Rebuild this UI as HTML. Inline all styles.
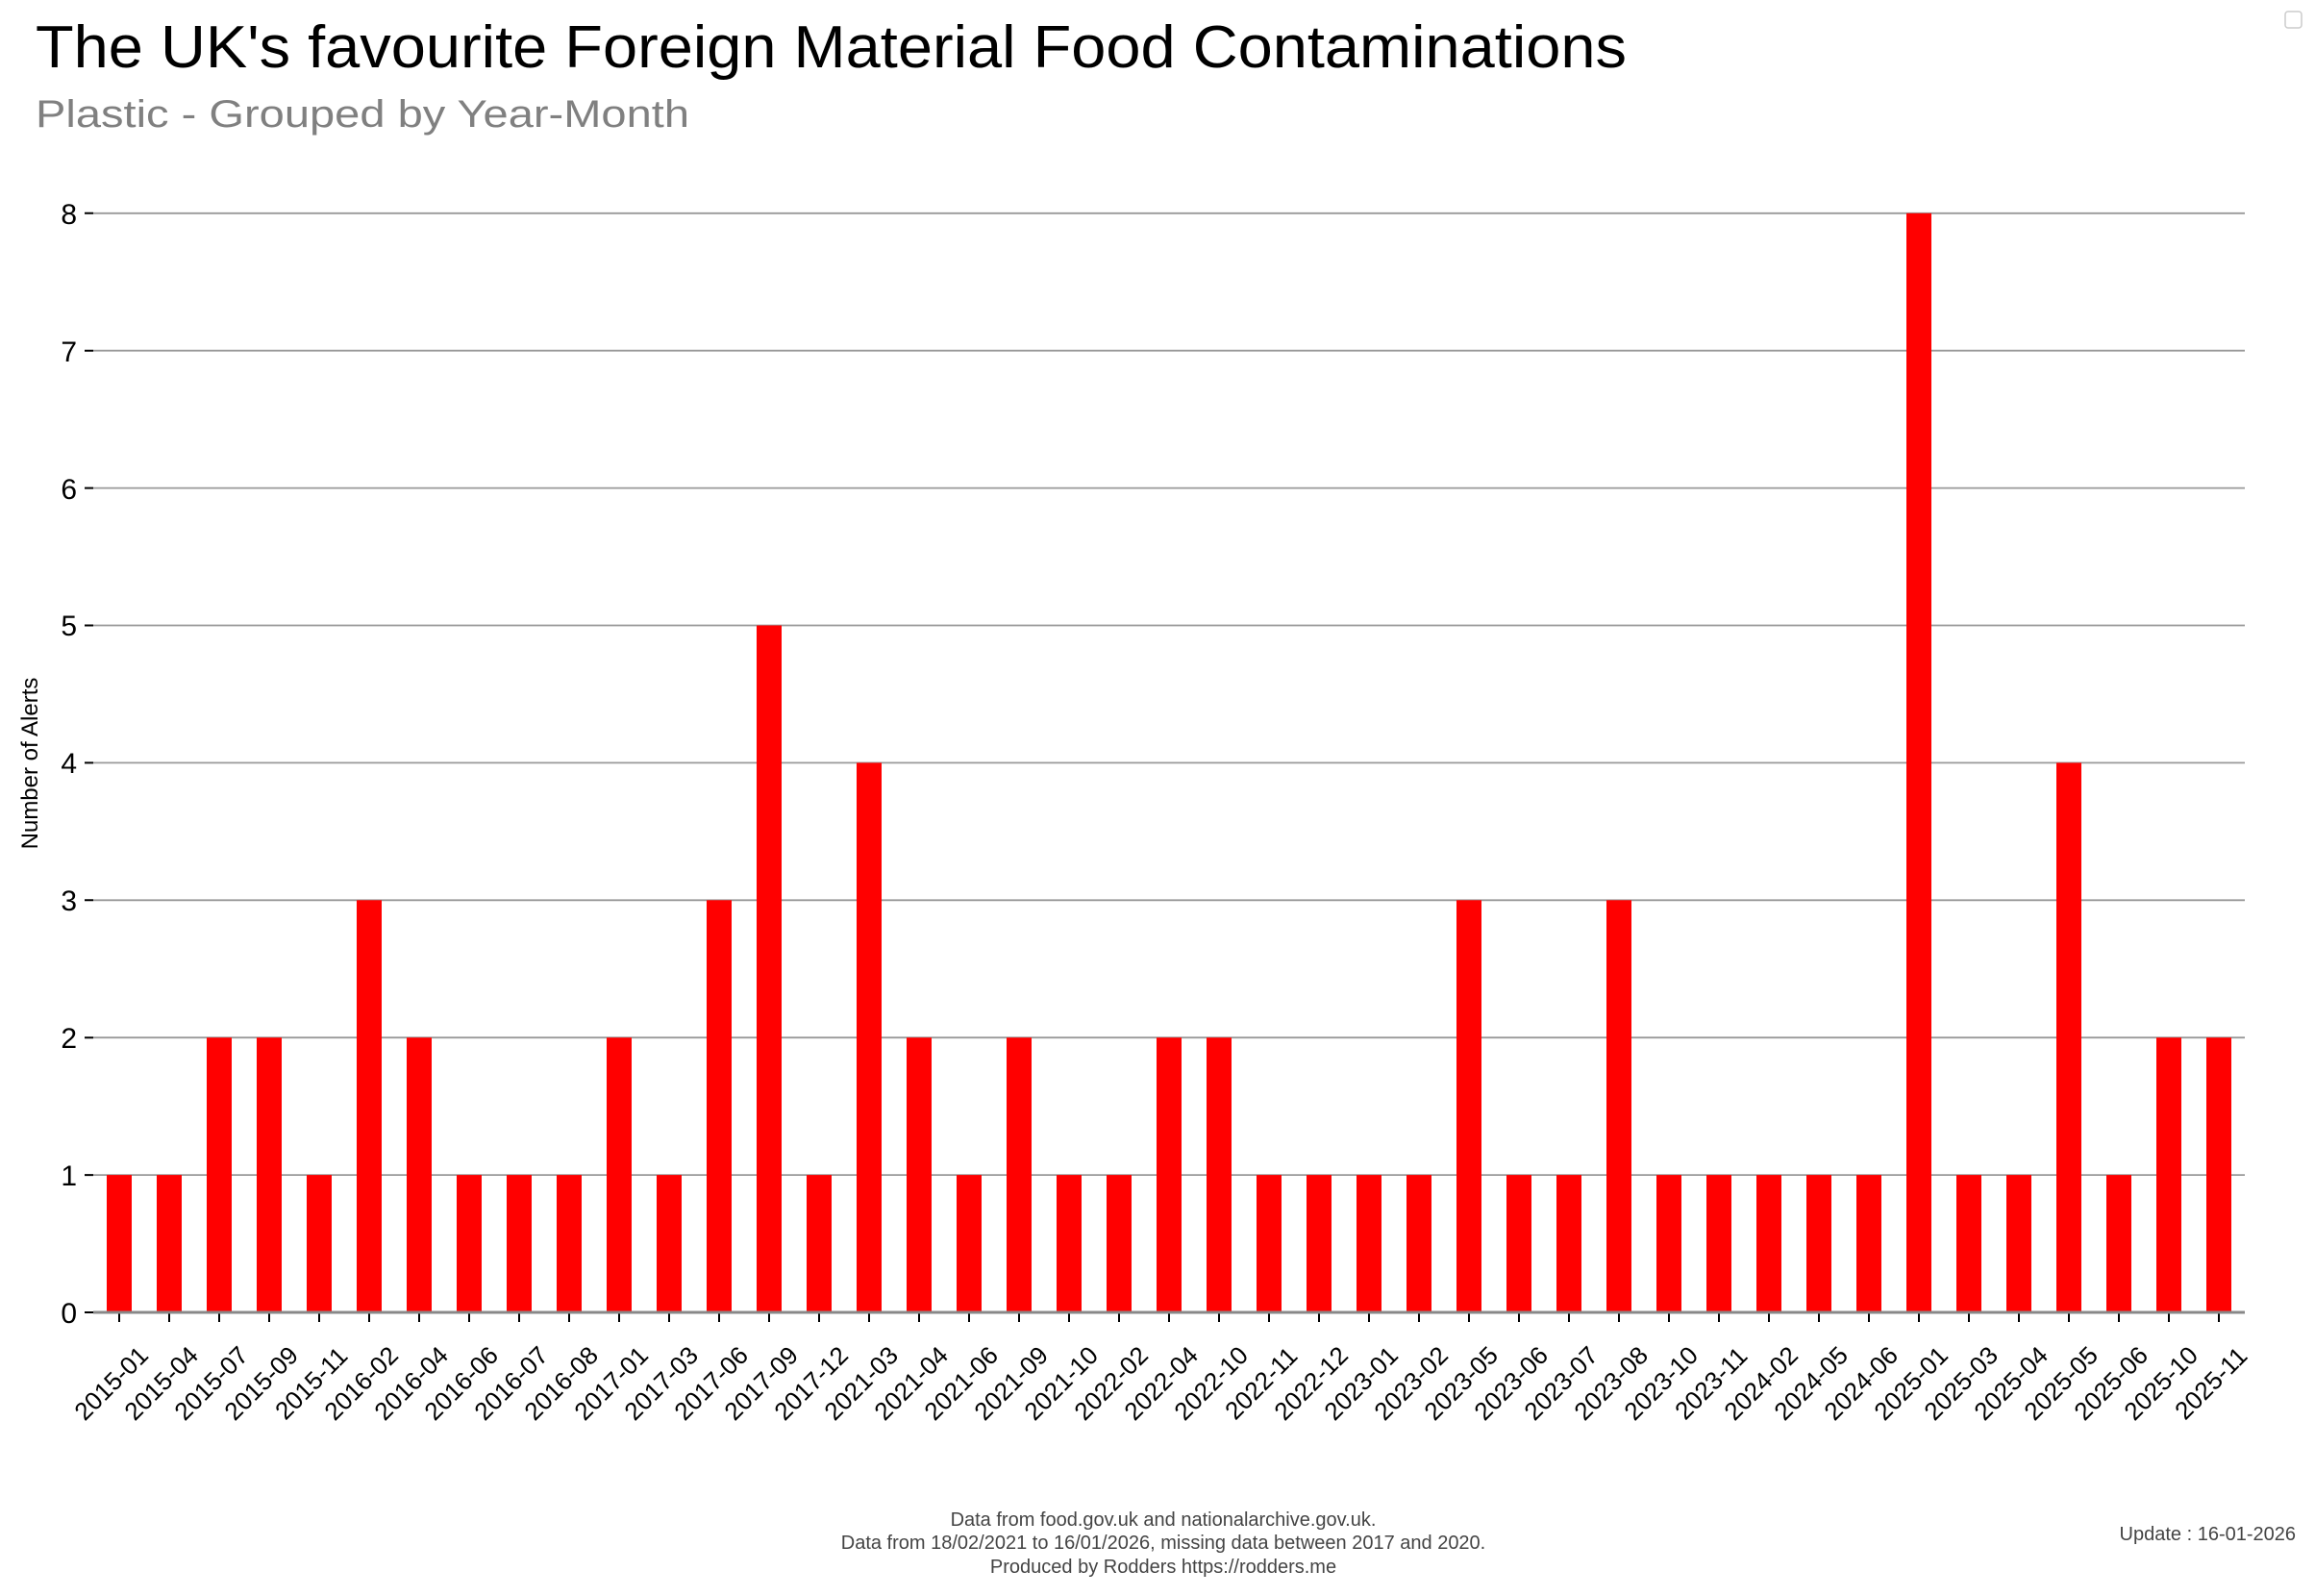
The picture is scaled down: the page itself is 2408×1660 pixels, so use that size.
<!DOCTYPE html>
<html><head><meta charset="utf-8"><style>html,body{margin:0;padding:0;background:#fff}svg{display:block}</style></head>
<body>
<svg xmlns="http://www.w3.org/2000/svg" width="2408" height="1660" viewBox="0 0 2408 1660" font-family="'Liberation Sans', 'DejaVu Sans', sans-serif">
<rect width="2408" height="1660" fill="#fff"/>
<text x="37" y="70" font-size="62" fill="#000" textLength="1655" lengthAdjust="spacingAndGlyphs">The UK's favourite Foreign Material Food Contaminations</text>
<text x="37" y="132" font-size="40" fill="#808080" textLength="680" lengthAdjust="spacingAndGlyphs">Plastic - Grouped by Year-Month</text>
<rect x="2377" y="12" width="17" height="17" rx="3" fill="#fff" stroke="#ccc" stroke-width="1.5"/>
<g stroke="#999" stroke-width="1.8">
<line x1="97" x2="2335" y1="1222.1" y2="1222.1"/>
<line x1="97" x2="2335" y1="1079.2" y2="1079.2"/>
<line x1="97" x2="2335" y1="936.3" y2="936.3"/>
<line x1="97" x2="2335" y1="793.4" y2="793.4"/>
<line x1="97" x2="2335" y1="650.5" y2="650.5"/>
<line x1="97" x2="2335" y1="507.6" y2="507.6"/>
<line x1="97" x2="2335" y1="364.7" y2="364.7"/>
<line x1="97" x2="2335" y1="221.8" y2="221.8"/>
</g>
<g fill="#ff0000" transform="translate(0,1365) scale(1,-142.9)">
<rect x="111" y="0" width="26" height="1"/>
<rect x="163" y="0" width="26" height="1"/>
<rect x="215" y="0" width="26" height="2"/>
<rect x="267" y="0" width="26" height="2"/>
<rect x="319" y="0" width="26" height="1"/>
<rect x="371" y="0" width="26" height="3"/>
<rect x="423" y="0" width="26" height="2"/>
<rect x="475" y="0" width="26" height="1"/>
<rect x="527" y="0" width="26" height="1"/>
<rect x="579" y="0" width="26" height="1"/>
<rect x="631" y="0" width="26" height="2"/>
<rect x="683" y="0" width="26" height="1"/>
<rect x="735" y="0" width="26" height="3"/>
<rect x="787" y="0" width="26" height="5"/>
<rect x="839" y="0" width="26" height="1"/>
<rect x="891" y="0" width="26" height="4"/>
<rect x="943" y="0" width="26" height="2"/>
<rect x="995" y="0" width="26" height="1"/>
<rect x="1047" y="0" width="26" height="2"/>
<rect x="1099" y="0" width="26" height="1"/>
<rect x="1151" y="0" width="26" height="1"/>
<rect x="1203" y="0" width="26" height="2"/>
<rect x="1255" y="0" width="26" height="2"/>
<rect x="1307" y="0" width="26" height="1"/>
<rect x="1359" y="0" width="26" height="1"/>
<rect x="1411" y="0" width="26" height="1"/>
<rect x="1463" y="0" width="26" height="1"/>
<rect x="1515" y="0" width="26" height="3"/>
<rect x="1567" y="0" width="26" height="1"/>
<rect x="1619" y="0" width="26" height="1"/>
<rect x="1671" y="0" width="26" height="3"/>
<rect x="1723" y="0" width="26" height="1"/>
<rect x="1775" y="0" width="26" height="1"/>
<rect x="1827" y="0" width="26" height="1"/>
<rect x="1879" y="0" width="26" height="1"/>
<rect x="1931" y="0" width="26" height="1"/>
<rect x="1983" y="0" width="26" height="8"/>
<rect x="2035" y="0" width="26" height="1"/>
<rect x="2087" y="0" width="26" height="1"/>
<rect x="2139" y="0" width="26" height="4"/>
<rect x="2191" y="0" width="26" height="1"/>
<rect x="2243" y="0" width="26" height="2"/>
<rect x="2295" y="0" width="26" height="2"/>
</g>
<path stroke="#000" stroke-width="2" fill="none" d="M88 1365H97M88 1222.1H97M88 1079.2H97M88 936.3H97M88 793.4H97M88 650.5H97M88 507.6H97M88 364.7H97M88 221.8H97"/>
<g font-size="30" text-anchor="end" fill="#000">
<text x="80" y="1376">0</text><text x="80" y="1233">1</text><text x="80" y="1090">2</text><text x="80" y="947">3</text><text x="80" y="804">4</text><text x="80" y="661">5</text><text x="80" y="519">6</text><text x="80" y="376">7</text><text x="80" y="233">8</text>
</g>
<path stroke="#000" stroke-width="2" fill="none" d="M124 1365v10M176 1365v10M228 1365v10M280 1365v10M332 1365v10M384 1365v10M436 1365v10M488 1365v10M540 1365v10M592 1365v10M644 1365v10M696 1365v10M748 1365v10M800 1365v10M852 1365v10M904 1365v10M956 1365v10M1008 1365v10M1060 1365v10M1112 1365v10M1164 1365v10M1216 1365v10M1268 1365v10M1320 1365v10M1372 1365v10M1424 1365v10M1476 1365v10M1528 1365v10M1580 1365v10M1632 1365v10M1684 1365v10M1736 1365v10M1788 1365v10M1840 1365v10M1892 1365v10M1944 1365v10M1996 1365v10M2048 1365v10M2100 1365v10M2152 1365v10M2204 1365v10M2256 1365v10M2308 1365v10"/>
<line x1="97" x2="2335" y1="1365" y2="1365" stroke="#888" stroke-width="3"/>
<g font-size="26" text-anchor="middle" fill="#000">
<text transform="translate(122,1445) rotate(-45)">2015-01</text>
<text transform="translate(174,1445) rotate(-45)">2015-04</text>
<text transform="translate(226,1445) rotate(-45)">2015-07</text>
<text transform="translate(278,1445) rotate(-45)">2015-09</text>
<text transform="translate(330,1445) rotate(-45)">2015-11</text>
<text transform="translate(382,1445) rotate(-45)">2016-02</text>
<text transform="translate(434,1445) rotate(-45)">2016-04</text>
<text transform="translate(486,1445) rotate(-45)">2016-06</text>
<text transform="translate(538,1445) rotate(-45)">2016-07</text>
<text transform="translate(590,1445) rotate(-45)">2016-08</text>
<text transform="translate(642,1445) rotate(-45)">2017-01</text>
<text transform="translate(694,1445) rotate(-45)">2017-03</text>
<text transform="translate(746,1445) rotate(-45)">2017-06</text>
<text transform="translate(798,1445) rotate(-45)">2017-09</text>
<text transform="translate(850,1445) rotate(-45)">2017-12</text>
<text transform="translate(902,1445) rotate(-45)">2021-03</text>
<text transform="translate(954,1445) rotate(-45)">2021-04</text>
<text transform="translate(1006,1445) rotate(-45)">2021-06</text>
<text transform="translate(1058,1445) rotate(-45)">2021-09</text>
<text transform="translate(1110,1445) rotate(-45)">2021-10</text>
<text transform="translate(1162,1445) rotate(-45)">2022-02</text>
<text transform="translate(1214,1445) rotate(-45)">2022-04</text>
<text transform="translate(1266,1445) rotate(-45)">2022-10</text>
<text transform="translate(1318,1445) rotate(-45)">2022-11</text>
<text transform="translate(1370,1445) rotate(-45)">2022-12</text>
<text transform="translate(1422,1445) rotate(-45)">2023-01</text>
<text transform="translate(1474,1445) rotate(-45)">2023-02</text>
<text transform="translate(1526,1445) rotate(-45)">2023-05</text>
<text transform="translate(1578,1445) rotate(-45)">2023-06</text>
<text transform="translate(1630,1445) rotate(-45)">2023-07</text>
<text transform="translate(1682,1445) rotate(-45)">2023-08</text>
<text transform="translate(1734,1445) rotate(-45)">2023-10</text>
<text transform="translate(1786,1445) rotate(-45)">2023-11</text>
<text transform="translate(1838,1445) rotate(-45)">2024-02</text>
<text transform="translate(1890,1445) rotate(-45)">2024-05</text>
<text transform="translate(1942,1445) rotate(-45)">2024-06</text>
<text transform="translate(1994,1445) rotate(-45)">2025-01</text>
<text transform="translate(2046,1445) rotate(-45)">2025-03</text>
<text transform="translate(2098,1445) rotate(-45)">2025-04</text>
<text transform="translate(2150,1445) rotate(-45)">2025-05</text>
<text transform="translate(2202,1445) rotate(-45)">2025-06</text>
<text transform="translate(2254,1445) rotate(-45)">2025-10</text>
<text transform="translate(2306,1445) rotate(-45)">2025-11</text>
</g>
<text transform="translate(39,794) rotate(-90)" text-anchor="middle" font-size="24" fill="#000">Number of Alerts</text>
<g font-size="20" fill="#444" text-anchor="middle">
<text x="1210" y="1587">Data from food.gov.uk and nationalarchive.gov.uk.</text>
<text x="1210" y="1611">Data from 18/02/2021 to 16/01/2026, missing data between 2017 and 2020.</text>
<text x="1210" y="1636">Produced by Rodders https://rodders.me</text>
</g>
<text x="2388" y="1602" font-size="20" fill="#444" text-anchor="end">Update : 16-01-2026</text>
</svg>
</body></html>
